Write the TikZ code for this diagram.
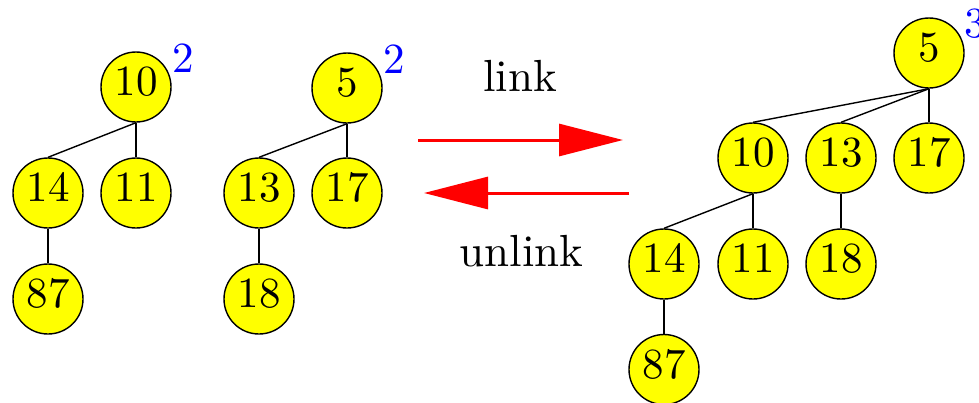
\documentclass[tikz,border=0pt]{standalone}
\usepackage{fontspec}
\usetikzlibrary{arrows.meta}
\newfontfamily\heapfam{lmroman10-regular}[Extension=.otf]
\newcommand\heapfont{\heapfam\fontsize{43pt}{52pt}\selectfont}
\newcommand\opfont{\heapfam\fontsize{45pt}{54pt}\selectfont}
\definecolor{nodefill}{RGB}{255,255,0}
\definecolor{arrowred}{RGB}{255,0,0}
\definecolor{rankblue}{RGB}{0,0,255}
\tikzset{
  heapnode/.style={circle, draw=black, fill=nodefill, line width=1.4pt,
    minimum size=70pt, inner sep=0pt, text height=28pt, text depth=11pt,
    font=\heapfont},
  treeedge/.style={line width=1.4pt},
  rankmark/.style={text=rankblue, anchor=base west, inner sep=0pt, font=\heapfont},
  linkarrow/.style={draw=arrowred, line width=3pt, -{Triangle[length=64pt,width=32pt]}},
  opcaption/.style={anchor=base, inner sep=0pt, font=\opfont}
}
\begin{document}
\begin{tikzpicture}[x=1pt, y=-1pt]
\useasboundingbox (0,0) rectangle (979,402);

% first binomial tree, rank 2
\node[heapnode] (a10) at (136,87)  {10};
\node[heapnode] (a14) at (48,193)  {14};
\node[heapnode] (a11) at (136,193) {11};
\node[heapnode] (a87) at (48,299)  {87};
\draw[treeedge] (a10.south) -- (a14.north);
\draw[treeedge] (a10.south) -- (a11.north);
\draw[treeedge] (a14.south) -- (a87.north);
\node[rankmark] (ra) at ([xshift=36pt,yshift=14.5pt]a10.center) {2};

% second binomial tree, rank 2
\node[heapnode] (b5)  at (347,88)  {5};
\node[heapnode] (b13) at (259,193) {13};
\node[heapnode] (b17) at (347,193) {17};
\node[heapnode] (b18) at (259,299) {18};
\draw[treeedge] (b5.south) -- (b13.north);
\draw[treeedge] (b5.south) -- (b17.north);
\draw[treeedge] (b13.south) -- (b18.north);
\node[rankmark] (rb) at ([xshift=36pt,yshift=14.5pt]b5.center) {2};

% link / unlink operations
\coordinate (l1) at (418,140);
\coordinate (l2) at (623,140);
\coordinate (u1) at (629,193);
\coordinate (u2) at (424,193);
\draw[linkarrow] (l1) -- (l2);
\draw[linkarrow] (u1) -- (u2);
\node[opcaption] (tlink) at (520,91.5) {link};
\node[opcaption] (tunlink) at (521.5,266.5) {unlink};

% linked tree, rank 3
\node[heapnode] (c5)  at (929,53)  {5};
\node[heapnode] (c10) at (753,158) {10};
\node[heapnode] (c13) at (841,158) {13};
\node[heapnode] (c17) at (929,158) {17};
\node[heapnode] (c14) at (664,264) {14};
\node[heapnode] (c11) at (753,264) {11};
\node[heapnode] (c18) at (841,264) {18};
\node[heapnode] (c87) at (664,369.5) {87};
\draw[treeedge] (c5.south) -- (c10.north);
\draw[treeedge] (c5.south) -- (c13.north);
\draw[treeedge] (c5.south) -- (c17.north);
\draw[treeedge] (c10.south) -- (c14.north);
\draw[treeedge] (c10.south) -- (c11.north);
\draw[treeedge] (c13.south) -- (c18.north);
\draw[treeedge] (c14.south) -- (c87.north);
\node[rankmark] (rc) at ([xshift=35pt,yshift=16pt]c5.center) {3};
\end{tikzpicture}
\end{document}
